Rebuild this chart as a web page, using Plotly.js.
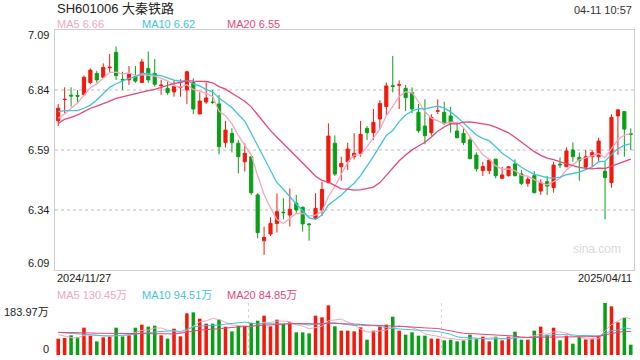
<!DOCTYPE html>
<html><head><meta charset="utf-8">
<script src="https://cdn.plot.ly/plotly-3.0.1.min.js"></script>
<style>html,body{margin:0;padding:0;background:#fff}#c{width:640px;height:360px}</style>
</head><body><div id="c"></div>
<script>
// ---- data ----
const opens  = [6.712,6.800,6.818,6.817,6.821,6.871,6.909,6.893,6.933,6.997,6.884,6.882,6.896,6.871,6.930,6.909,6.858,6.847,6.832,6.850,
                6.840,6.871,6.740,6.790,6.790,6.782,6.621,6.659,6.618,6.541,6.562,6.403,6.212,6.240,6.284,6.331,6.319,6.368,6.351,6.282,
                6.305,6.340,6.454,6.618,6.520,6.541,6.562,6.576,6.680,6.662,6.719,6.771,6.858,6.860,6.847,6.829,6.747,6.690,6.662,6.752,
                6.747,6.732,6.669,6.659,6.632,6.569,6.504,6.504,6.552,6.472,6.483,6.532,6.490,6.451,6.483,6.419,6.458,6.433,6.531,6.520,
                6.590,6.559,6.518,6.562,6.562,6.502,6.454,6.732,6.750,6.658];
const highs  = [6.782,6.851,6.851,6.840,6.900,6.930,6.920,6.951,6.990,7.021,6.916,6.940,6.940,6.970,7.000,6.969,6.882,6.875,6.882,6.885,
                6.920,6.889,6.830,6.871,6.840,6.819,6.711,6.680,6.632,6.618,6.565,6.410,6.271,6.310,6.409,6.389,6.430,6.403,6.355,6.285,
                6.410,6.458,6.701,6.651,6.562,6.620,6.660,6.711,6.690,6.761,6.798,6.871,6.982,6.880,6.861,6.851,6.782,6.801,6.739,6.801,
                6.791,6.770,6.708,6.680,6.643,6.580,6.541,6.551,6.552,6.520,6.523,6.551,6.507,6.479,6.502,6.468,6.482,6.541,6.559,6.601,
                6.622,6.580,6.590,6.590,6.641,6.541,6.739,6.761,6.750,6.680];
const lows   = [6.690,6.743,6.771,6.784,6.818,6.864,6.870,6.889,6.912,6.882,6.840,6.861,6.870,6.869,6.870,6.854,6.820,6.820,6.812,6.812,
                6.782,6.740,6.740,6.782,6.782,6.572,6.600,6.580,6.493,6.500,6.403,6.222,6.153,6.232,6.246,6.301,6.271,6.323,6.250,6.212,
                6.300,6.315,6.451,6.482,6.462,6.507,6.551,6.562,6.632,6.632,6.676,6.736,6.830,6.761,6.752,6.743,6.662,6.614,6.650,6.740,
                6.694,6.662,6.641,6.611,6.551,6.500,6.482,6.490,6.472,6.472,6.479,6.480,6.444,6.437,6.410,6.403,6.403,6.412,6.514,6.520,
                6.541,6.462,6.518,6.518,6.541,6.301,6.433,6.569,6.562,6.590];
const closes = [6.764,6.801,6.815,6.814,6.893,6.923,6.882,6.934,6.935,6.900,6.882,6.907,6.877,6.957,6.882,6.864,6.860,6.829,6.854,6.852,
                6.916,6.761,6.794,6.807,6.788,6.604,6.673,6.621,6.562,6.576,6.412,6.246,6.226,6.284,6.333,6.329,6.343,6.340,6.282,6.279,
                6.347,6.426,6.648,6.490,6.534,6.594,6.576,6.655,6.662,6.705,6.784,6.857,6.855,6.862,6.808,6.761,6.670,6.650,6.726,6.753,
                6.701,6.701,6.641,6.621,6.554,6.512,6.521,6.548,6.483,6.486,6.520,6.483,6.451,6.468,6.412,6.454,6.440,6.527,6.528,6.586,
                6.562,6.546,6.562,6.579,6.627,6.475,6.726,6.757,6.677,6.656];
// volume in 万
const volumes = [57.8,60.1,69.6,62.5,96.7,68.4,48.3,62.5,64.8,96.7,66.0,69.6,96.7,107.3,100.2,103.8,69.6,57.8,93.1,66.0,
                 147.4,150.9,128.5,110.8,110.8,125.0,100.2,83.7,103.8,101.4,113.2,121.4,139.1,101.4,125.0,110.8,115.5,80.2,80.2,76.6,
                 139.1,133.2,175.7,101.4,86.1,86.1,83.7,97.9,54.2,86.1,99.0,107.3,135.6,86.1,71.9,80.2,68.4,68.4,57.8,57.8,
                 51.9,54.2,48.3,51.9,71.9,56.6,64.8,48.3,64.8,51.9,64.8,82.5,54.2,54.2,86.1,100.2,71.9,96.7,51.9,68.4,
                 40.1,64.8,55.4,57.8,68.4,183.97,172.1,115.5,130.9,36.5];
// moving-average values before the window starts
const ma5Head  = [6.722,6.740,6.764,6.787];
const ma10Head = [6.750,6.754,6.754,6.754,6.764,6.777,6.798,6.826,6.851];
const ma20Head = [6.701,6.718,6.726,6.736,6.750,6.764,6.773,6.782,6.794,6.805,6.812,6.819,6.823,6.830,6.837,6.843,6.851,6.857,6.868];
const vma5Head  = [72,66,62,60];
const vma10Head = [80,78,76,74,72,70,69,68,67];
const vma20Head = [80,80,79,79,78,78,77,77,76,76,76,75,75,75,75,75,75,75,74];
// labels
const titleText = 'SH601006 大秦铁路';
const timeText = '04-11 10:57';
const priceLegend = ['MA5 6.66','MA10 6.62','MA20 6.55'];
const volLegend = ['MA5 130.45万','MA10 94.51万','MA20 84.85万'];
const priceTicks = [7.09,6.84,6.59,6.34,6.09];
const priceTickLabels = ['7.09','6.84','6.59','6.34','6.09'];
const volTickLabels = ['183.97万','0'];
const volMax = 183.97;
const dateLabels = ['2024/11/27','2025/04/11'];

// ---- drawing ----
const RED='#f2190d', GREEN='#08a016';
const C5='#f6a5be', C10='#3ec4de', C20='#e64679';
const x = closes.map((_,i)=>i);
function ma(arr,n,head){return arr.map((v,i)=>{if(i<n-1)return head[i];let s=0;for(let k=i-n+1;k<=i;k++)s+=arr[k];return s/n;});}

const traces = [
 {type:'candlestick',x:x,open:opens,high:highs,low:lows,close:closes,xaxis:'x',yaxis:'y',
  increasing:{line:{color:RED,width:1},fillcolor:RED},decreasing:{line:{color:GREEN,width:1},fillcolor:GREEN},
  whiskerwidth:0,hoverinfo:'skip',showlegend:false},
 {type:'scatter',mode:'lines',x:x,y:ma(closes,5,ma5Head),line:{color:C5,width:1.3},xaxis:'x',yaxis:'y',showlegend:false,hoverinfo:'skip'},
 {type:'scatter',mode:'lines',x:x,y:ma(closes,10,ma10Head),line:{color:C10,width:1.3},xaxis:'x',yaxis:'y',showlegend:false,hoverinfo:'skip'},
 {type:'scatter',mode:'lines',x:x,y:ma(closes,20,ma20Head),line:{color:C20,width:1.3},xaxis:'x',yaxis:'y',showlegend:false,hoverinfo:'skip'},
 {type:'bar',x:x,y:volumes,width:0.55,marker:{color:closes.map((c,i)=>c>opens[i]?RED:GREEN),line:{width:0}},xaxis:'x2',yaxis:'y2',showlegend:false,hoverinfo:'skip'},
 {type:'scatter',mode:'lines',x:x,y:ma(volumes,5,vma5Head),line:{color:C5,width:1},xaxis:'x2',yaxis:'y2',showlegend:false,hoverinfo:'skip'},
 {type:'scatter',mode:'lines',x:x,y:ma(volumes,10,vma10Head),line:{color:C10,width:1},xaxis:'x2',yaxis:'y2',showlegend:false,hoverinfo:'skip'},
 {type:'scatter',mode:'lines',x:x,y:ma(volumes,20,vma20Head),line:{color:C20,width:1},xaxis:'x2',yaxis:'y2',showlegend:false,hoverinfo:'skip'}
];

const W=640,H=360;
const FONT='Liberation Sans, Arial, Noto Sans CJK SC, sans-serif';
function ann(text,px,py,color,size,anchor){return {text:text,x:px/W,y:1-py/H,xref:'paper',yref:'paper',xanchor:anchor,yanchor:'middle',showarrow:false,font:{family:FONT,size:size,color:color}};}
const annotations=[
 ann(titleText,55,8,'#222',13,'left'),
 ann(timeText,634,10,'#333',11,'right'),
 ann(priceLegend[0],55,24,C5,11,'left'),
 ann(priceLegend[1],140,24,C10,11,'left'),
 ann(priceLegend[2],225,24,C20,11,'left'),
 ann(dateLabels[0],55,278,'#222',11,'left'),
 ann(dateLabels[1],634,278,'#222',11,'right'),
 ann(volLegend[0],55,295,C5,11,'left'),
 ann(volLegend[1],140,295,C10,11,'left'),
 ann(volLegend[2],225,295,C20,11,'left'),
 ann(volTickLabels[0],51,312,'#222',11,'right'),
 ann(volTickLabels[1],51,349,'#222',11,'right'),
 ann('sina.com',623,249,'#d9d9d9',12,'right')
];
const tickPix=[35,90,150,210,263];
priceTickLabels.forEach((t,i)=>annotations.push(ann(t,51,tickPix[i],'#222',11,'right')));

const layout={
 width:W,height:H,margin:{l:0,r:0,t:0,b:0},paper_bgcolor:'#fff',plot_bgcolor:'#fff',showlegend:false,
 font:{family:FONT},
 xaxis:{domain:[55/W,634/W],range:[-0.5,89.5],showgrid:false,showticklabels:false,zeroline:false,
        showline:true,mirror:true,linecolor:'#cfcfcf',linewidth:1,rangeslider:{visible:false},fixedrange:true},
 yaxis:{domain:[(H-270)/H,(H-30)/H],range:[priceTicks[4],priceTicks[0]],tickvals:priceTicks.slice(1,4),showticklabels:false,
        showgrid:true,gridcolor:'#dedede',griddash:'dot',gridwidth:1.5,zeroline:false,showline:true,mirror:true,linecolor:'#cfcfcf',linewidth:1,ticks:''},
 xaxis2:{domain:[55/W,634/W],range:[-0.5,89.5],anchor:'y2',tickvals:[-0.5,29.5,59.5,89.5],showticklabels:false,showgrid:true,
        gridcolor:'#d6d6d6',griddash:'dot',gridwidth:1,zeroline:false,showline:false,ticks:''},
 yaxis2:{domain:[(H-355)/H,(H-303)/H],range:[0,volMax],tickvals:[0,volMax],showticklabels:false,showgrid:true,
        gridcolor:'#d6d6d6',griddash:'dot',gridwidth:1,zeroline:false,showline:false,ticks:''},
 annotations:annotations
};
Plotly.newPlot('c',traces,layout,{staticPlot:true,displayModeBar:false});
</script></body></html>
